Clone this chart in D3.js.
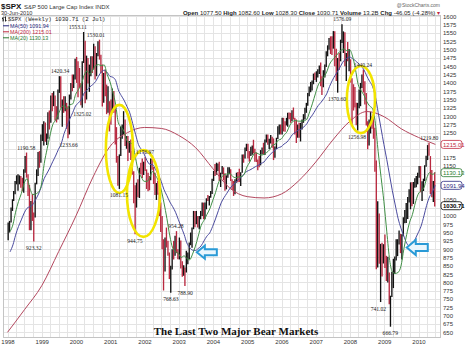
<!DOCTYPE html>
<html><head><meta charset="utf-8">
<script src="https://cdn.jsdelivr.net/npm/d3@7"></script>
<style>body{margin:0;background:#fff}svg{display:block}</style>
</head><body>
<svg id="c" width="474" height="357"></svg>
<script>
// ---------------- DATA ----------------
const startYear = 1998; // half-month periods starting Jan 1998
const priceHigh = [
 980,985,1025,1050,1075,1105,1122,1125,1122,1120,1115,1140,1180,1190.58,1125,1093,1045,1066,1010,1100,1140,1192,1195,1245,
 1276,1285,1281,1248,1312,1317,1362,1370,1375,1362,1330,1380,1420.34,1420,1350,1360,1360,1340,1330,1365,1400,1425,1425,1473,
 1478,1465,1445,1400,1465,1553.11,1527,1482,1475,1455,1480,1480,1518,1510,1490,1525,1530.01,1485,1455,1430,1440,1395,1390,1345,
 1350,1383,1376,1330,1267,1180,1185,1269,1275,1315,1290,1240,1240,1225,1230,1195,1134,1092,1100,1110,1145,1160,1173,1163,
 1176.97,1140,1130,1120,1173,1172,1147,1130,1099,1106,1070,1040,1000,930,935,965,925,890,850,900,925,940,954.28,900,
 935,926,864,852,845,895,890,920,950,965,1015,1015,1015,1000,1000,1015,1040,1040,1040,1053,1063,1060,1075,1112,
 1135,1156,1160,1158,1163,1130,1150,1146,1128,1122,1146,1146,1140,1110,1105,1110,1130,1132,1142,1131,1185,1185,1206,1217,
 1217,1195,1208,1212,1229,1202,1191,1170,1180,1198,1206,1220,1230,1245,1245,1232,1243,1238,1233,1209,1235,1270,1275,1275,
 1295,1295,1285,1295,1310,1311,1310,1318,1326,1295,1290,1275,1280,1280,1290,1306,1325,1340,1370,1389,1403,1407,1428,1431,
 1435,1441,1452,1461.57,1420,1438,1455,1495,1513,1535,1540,1540,1555.9,1555,1503,1475,1490,1530,1576.09,1555,1552,1490,1523,1502,
 1471,1414,1396,1388,1340,1340,1380,1400,1425,1440.24,1405,1370,1285,1290,1313.15,1300,1303,1265,1167,1044,1007,916,919,915,
 943.85,880,877,830,760,832,871,878,930,930,956.23,946,945,996,1018,1039,1057,1080,1101,1101,1102,1113,1120,1130,
 1150.45,1150,1104,1112,1152,1181,1213,1219.8,1180,1138,1105,1131.23
];
const priceLow = [
 927,950,980,1015,1045,1065,1095,1076,1095,1085,1074,1070,1130,1115,1060,957,957,985,923.32,995,1095,1120,1145,1160,
 1225,1212,1223,1213,1232,1260,1280,1315,1330,1287,1281,1290,1370,1325,1268,1310,1315,1262,1233.66,1245,1350,1375,1385,1410,
 1400,1357,1385,1333,1325.02,1460,1339,1350,1398,1373,1420,1430,1440,1410,1420,1480,1470,1430,1329,1340,1360,1306,1310,1254,
 1274,1310,1310,1215,1160,1091,1081.15,1180,1232,1245,1210,1202,1165,1190,1168,1124,1038,944.75,1025,1056,1054,1125,1114,1123,
 1135,1081,1074,1077,1107,1139,1096,1063,1048,1064,1000,952,900,775.68,833,905,880,810,768.63,839,869,880,888,870,
 869,842,817,820,788.9,830,855,870,912,904,960,966,975,965,960,990,1000,990,990,1020,1045,1031,1055,1066,
 1105,1120,1124,1135,1105,1087,1125,1107,1076,1080,1115,1125,1105,1078,1060,1065,1100,1101,1102,1090,1130,1160,1173,1195,
 1173,1163,1180,1184,1188,1163,1162,1137,1146,1152,1185,1185,1183,1221,1214,1201,1218,1205,1168,1175,1201,1231,1245,1245,
 1245,1254,1253,1272,1268,1291,1280,1285,1290,1245,1219,1235,1235,1224,1260,1280,1290,1310,1331,1360,1372,1377,1396,1409,
 1403,1416,1427,1390,1363.98,1387,1416,1448,1480,1500,1487,1484,1503,1450,1406,1370.6,1439,1465,1520,1490,1450,1406,1465,1435,
 1401,1270.05,1317,1326,1273,1256.98,1324,1330,1385,1371,1335,1272,1200.44,1212,1248,1262,1232,1133,839.8,845,856,741.02,818,857,
 843,804,800,734,666.79,756,783,826,866,879,914,888,869,939,978,979,991,1040,1020,1029,1036,1085,1086,1095,
 1115,1071,1044.5,1075,1105,1148,1168,1181,1065.79,1055.9,1042.17,1028.3
];
const priceClose = [
 950,980,1020,1049,1069,1102,1108,1112,1117,1091,1077,1134,1177,1121,1063,957,1030,1017,1000,1099,1126,1164,1162,1229,
 1244,1280,1231,1238,1307,1286,1350,1335,1367,1302,1295,1373,1418,1329,1330,1320,1336,1283,1247,1363,1397,1389,1418,1469,
 1465,1394,1388,1366,1464,1499,1357,1452,1420,1421,1466,1455,1510,1431,1484,1518,1481,1437,1374,1429,1375,1315,1341,1320,
 1318,1366,1318,1240,1173,1160,1183,1249,1249,1256,1215,1224,1202,1211,1182,1134,1092,1041,1092,1060,1142,1139,1124,1148,
 1138,1130,1116,1107,1166,1147,1103,1077,1099,1067,1007,990,921,912,930,916,889,815,841,886,882,936,890,880,
 918,856,834,841,833,848,869,917,947,964,998,975,993,990,990,1008,1018,996,1038,1051,1050,1058,1074,1112,
 1133,1131,1145,1145,1120,1126,1140,1107,1095,1121,1132,1141,1106,1102,1065,1104,1128,1115,1103,1130,1184,1174,1203,1212,
 1184,1181,1201,1204,1200,1181,1162,1157,1154,1192,1200,1191,1227,1234,1220,1220,1231,1229,1187,1207,1234,1249,1270,1248,
 1287,1280,1275,1281,1303,1295,1289,1311,1292,1270,1230,1270,1236,1277,1285,1304,1322,1336,1366,1378,1396,1401,1425,1418,
 1431,1438,1443,1407,1387,1421,1452,1482,1505,1531,1522,1503,1552,1455,1406,1474,1471,1527,1548,1549,1452,1481,1467,1468,
 1411,1379,1349,1331,1288,1323,1334,1386,1425,1400,1360,1280,1214,1267,1298,1283,1251,1166,946,969,873,896,879,903,
 851,826,826,735,756,798,869,873,882,919,946,919,940,987,1005,1021,1053,1057,1097,1036,1094,1096,1102,1115,
 1136,1074,1075,1104,1150,1169,1211,1187,1136,1089,1092,1030.71
];
// monthly samples (month end), Jan 1998 .. Jun 2010
const ma20Values = [
 953,974,1011,1043,1067,1098,1112,1083,1064,1066,1072,1093,
 1158,1202,1239,1274,1288,1307,1325,1332,1321,1334,1337,1365,
 1380,1396,1423,1436,1426,1439,1452,1455,1452,1454,1426,1404,
 1373,1334,1280,1267,1254,1226,1220,1215,1173,1134,1117,1104,
 1104,1117,1134,1122,1106,1078,1039,992,940,904,893,887,
 875,880,872,868,885,909,939,971,987,1004,1021,1045,
 1070,1099,1114,1124,1126,1128,1119,1115,1117,1118,1125,1147,
 1162,1180,1190,1187,1183,1185,1191,1199,1213,1216,1228,1231,
 1243,1253,1271,1283,1287,1285,1285,1286,1291,1313,1339,1367,
 1394,1408,1417,1433,1456,1469,1478,1489,1498,1502,1497,1500,
 1481,1442,1396,1377,1364,1344,1331,1323,1279,1193,1116,1043,
 952,866,832,827,830,849,899,944,981,1004,1039,1065,
 1076,1085,1112,1130,1125,1130.13
];
const ma50Values = [
 892,913,942,968,988,1009,1023,1028,1034,1049,1066,1088,
 1113,1129,1144,1163,1180,1200,1217,1248,1270,1292,1311,1331,
 1340,1351,1369,1378,1388,1395,1404,1420,1433,1438,1432,1420,
 1417,1407,1379,1362,1348,1329,1310,1278,1245,1215,1200,1186,
 1166,1155,1154,1140,1124,1104,1079,1061,1042,1028,1011,989,
 966,944,919,905,897,896,902,910,925,939,949,968,
 991,1016,1039,1055,1068,1082,1092,1100,1109,1116,1126,1134,
 1138,1143,1148,1152,1158,1162,1173,1183,1192,1199,1205,1208,
 1216,1222,1232,1245,1251,1258,1261,1268,1277,1292,1304,1318,
 1332,1342,1353,1367,1389,1408,1423,1437,1453,1467,1474,1478,
 1473,1467,1459,1451,1440,1421,1405,1390,1359,1311,1262,1215,
 1169,1120,1076,1033,993,963,940,918,909,914,931,949,
 969,1000,1031,1057,1071,1091.94
];
const ma200Dates = ["1998-01-01","1998-07-01","1999-01-01","1999-07-01","2000-01-01","2000-07-01","2001-01-01","2001-07-01",
 "2002-01-01","2002-07-01","2003-01-01","2003-07-01","2004-01-01","2004-07-01","2005-01-01","2005-07-01","2006-01-01",
 "2006-07-01","2007-01-01","2007-07-01","2008-01-01","2008-07-01","2009-01-01","2009-07-01","2010-01-01","2010-06-30"];
const ma200Values = [650,718,790,893,1000,1117,1210,1250,1266,1263,1242,1205,1142,1083,1058,1054,1066,1105,1162,1228,1285,1314,1298,1262,1236,1215.01];
const yearLabels = ["1998","1999","2000","2001","2002","2003","2004","2005","2006","2007","2008","2009","2010"];
const yTickValues = [650,675,700,725,750,775,800,825,850,875,900,925,950,975,1000,1025,1050,1075,1100,1125,1150,1175,1200,
 1225,1250,1275,1300,1325,1350,1375,1400,1425,1450,1475,1500,1525,1550,1575,1600];
const annotations = [
 {date:"2000-03-24",value:1553.11,side:"above"},{date:"2000-09-01",value:1530.01,side:"above"},
 {date:"1999-07-16",value:1420.34,side:"above"},{date:"2000-03-08",value:1325.02,side:"below"},
 {date:"1999-10-15",value:1233.66,side:"below"},{date:"1998-07-20",value:1190.58,side:"above"},
 {date:"2002-01-07",value:1176.97,side:"above"},{date:"2001-04-04",value:1081.15,side:"below"},
 {date:"2001-09-21",value:944.75,side:"below"},{date:"2002-12-02",value:954.28,side:"above"},
 {date:"1998-10-08",value:923.32,side:"below"},{date:"2002-10-10",value:768.63,side:"below"},
 {date:"2003-03-11",value:788.90,side:"below"},{date:"2007-10-11",value:1576.09,side:"above"},
 {date:"2008-05-19",value:1440.24,side:"above"},{date:"2007-08-16",value:1370.60,side:"below"},
 {date:"2008-03-17",value:1256.98,side:"below"},{date:"2010-04-26",value:1219.80,side:"above"},
 {date:"2008-11-21",value:741.02,side:"below"},{date:"2009-03-06",value:666.79,side:"below"}
];
// highlighted regions (yellow ellipses): date span and value span
const highlights = [
 {from:"2000-11-15",to:"2001-08-31",low:1069,high:1334},
 {from:"2001-06-28",to:"2002-06-15",low:937,high:1198},
 {from:"2007-11-29",to:"2008-09-24",low:1249,high:1451}
];
// blue arrows pointing at crossover
const arrowPoints = [{date:"2003-07-13",value:891},{date:"2009-08-29",value:905}];
const headerStats = [["Open","1077.50"],["High","1082.60"],["Low","1028.30"],["Close","1030.71"],["Volume","13.2B"],["Chg","-46.05 (-4.28%)"]];

// ---------------- DRAW ----------------
const svg = d3.select("#c");
const P = {left:3, right:440, top:15, bottom:337};
const pd = d3.timeParse("%Y-%m-%d");
const x = d3.scaleTime().domain([new Date(1998,0,1), new Date(2010,0,1)]).range([7.5, 418.5]);
const y = d3.scaleLinear().domain([650,1600]).range([332.3, 16.4]);
const periodDate = i => new Date(startYear + Math.floor(i/24), Math.floor((i%24)/2), (i%2) ? 23 : 8);
const monthDate = i => new Date(startYear + Math.floor(i/12), i%12, 28);
const sans = "'Liberation Sans', Arial, sans-serif";

// grid
const g = svg.append("g");
g.selectAll("line.h").data(yTickValues).join("line")
  .attr("x1",P.left).attr("x2",P.right)
  .attr("y1",d=>Math.round(y(d))+0.5).attr("y2",d=>Math.round(y(d))+0.5)
  .attr("stroke","#e4e4e4").attr("stroke-width",1);
const quarters = d3.timeMonth.every(3).range(new Date(1998,0,1), new Date(2010,9,1));
g.selectAll("line.v").data(quarters).join("line")
  .attr("x1",d=>Math.round(x(d))+0.5).attr("x2",d=>Math.round(x(d))+0.5)
  .attr("y1",P.top).attr("y2",P.bottom)
  .attr("stroke","#e4e4e4").attr("stroke-width",1);
svg.append("rect").attr("x",P.left+0.5).attr("y",P.top+0.5)
  .attr("width",P.right-P.left).attr("height",P.bottom-P.top)
  .attr("fill","none").attr("stroke","#c4c4c4");

// price bars
const barG = svg.append("g");
barG.selectAll("line").data(priceHigh).join("line")
  .attr("x1",(d,i)=>x(periodDate(i))).attr("x2",(d,i)=>x(periodDate(i)))
  .attr("y1",(d,i)=>y(priceLow[i])).attr("y2",d=>y(d))
  .attr("stroke",(d,i)=> (i>0 && priceClose[i] < priceClose[i-1]) ? "#b8283f" : "#111")
  .attr("stroke-width",1.35);

// moving averages
const lineGen = d3.line().x(d=>x(d[0])).y(d=>y(d[1])).curve(d3.curveMonotoneX);
const ma200Pts = ma200Values.map((v,i)=>[pd(ma200Dates[i]),v]);
const ma50Pts = ma50Values.map((v,i)=>[monthDate(i),v]);
const ma20Pts = ma20Values.map((v,i)=>[monthDate(i),v]);
const MA = [
  {pts:ma200Pts,color:"#b3475e",name:"MA(200)",val:ma200Values[ma200Values.length-1],text:"#c0283f"},
  {pts:ma50Pts,color:"#4a4a9e",name:"MA(50)",val:ma50Values[ma50Values.length-1],text:"#2a2a80"},
  {pts:ma20Pts,color:"#3f8f45",name:"MA(20)",val:ma20Values[ma20Values.length-1],text:"#2a7a30"}
];
MA.forEach(m=>{
  svg.append("path").attr("d",lineGen(m.pts)).attr("fill","none")
    .attr("stroke",m.color).attr("stroke-width",1);
});

// yellow ellipses
svg.append("g").selectAll("ellipse").data(highlights).join("ellipse")
  .attr("cx",d=>(x(pd(d.from))+x(pd(d.to)))/2).attr("cy",d=>(y(d.low)+y(d.high))/2)
  .attr("rx",d=>(x(pd(d.to))-x(pd(d.from)))/2).attr("ry",d=>(y(d.low)-y(d.high))/2)
  .attr("fill","none").attr("stroke","#f2e400").attr("stroke-width",2.6);

// arrows
const arrowPath = (L,H,s,h)=>`M0,0L${h},${-H/2}L${h},${-s/2}L${L},${-s/2}L${L},${s/2}L${h},${s/2}L${h},${H/2}Z`;
svg.append("g").selectAll("path").data(arrowPoints).join("path")
  .attr("transform",d=>`translate(${x(pd(d.date))},${y(d.value)})`)
  .attr("d",(d,i)=> i===0 ? arrowPath(20,13,6,8) : arrowPath(21,15,7,9))
  .attr("fill","#eaf6fd").attr("stroke","#2a9ad6").attr("stroke-width",2).attr("stroke-linejoin","miter");

// price annotations
const nudge = {"1553.11":-6,"1530.01":-3,"741.02":-2};
svg.append("g").selectAll("text").data(annotations).join("text")
  .attr("x",d=>x(pd(d.date)) + (nudge[d.value.toFixed(2)]||0))
  .attr("y",d=>y(d.value) + (d.side==="above" ? -3 : 8.5))
  .attr("text-anchor","middle").attr("font-family","'Liberation Serif', 'Times New Roman', serif")
  .attr("font-size",5.6).attr("fill","#222")
  .text(d=>d.value.toFixed(2));

// right-side value badges
const badges = [
  {v:MA[0].val,color:MA[0].text,bold:false},
  {v:MA[2].val,color:MA[2].text,bold:false},
  {v:MA[1].val,color:MA[1].text,bold:false},
  {v:priceClose[priceClose.length-1],color:"#000",bold:true}
];

// axes (tick labels covered by a value badge are left out, as in the original)
const visibleTicks = yTickValues.filter(t => badges.every(b => Math.abs(y(t) - y(b.v)) >= 6));
const yAxis = svg.append("g").attr("transform",`translate(${P.right},0)`)
  .call(d3.axisRight(y).tickValues(visibleTicks).tickSize(0).tickPadding(3).tickFormat(d3.format("d")));
yAxis.select(".domain").remove();
yAxis.selectAll("text").attr("font-family",sans).attr("font-size",6).attr("fill","#333");
const xAxis = svg.append("g").attr("transform",`translate(0,${P.bottom})`)
  .call(d3.axisBottom(x).tickValues(yearLabels.map(s=>new Date(+s,0,1))).tickSize(0).tickPadding(3)
    .tickFormat((d,i)=>yearLabels[i]));
xAxis.select(".domain").remove();
xAxis.selectAll("text").attr("font-family",sans).attr("font-size",6).attr("fill","#333");

const bg = svg.append("g").selectAll("g").data(badges).join("g")
  .attr("transform",d=>`translate(${P.right+1},${y(d.v)})`);
bg.append("rect").attr("x",0).attr("y",-4).attr("width",21).attr("height",8).attr("rx",2.5)
  .attr("fill","#fff").attr("stroke",d=>d.color).attr("stroke-width",0.8);
bg.append("text").attr("x",2).attr("y",2.2).attr("font-family",sans).attr("font-size",6)
  .attr("font-weight",d=>d.bold?"bold":"normal").attr("fill",d=>d.color).text(d=>d.v.toFixed(2));

// header
svg.append("text").attr("x",1).attr("y",9).attr("font-family",sans).attr("font-weight","bold")
  .attr("font-size",8).attr("fill","#111").text("$SPX");
svg.append("text").attr("x",24).attr("y",8.5).attr("font-family",sans).attr("font-size",6)
  .attr("fill","#333").text("S&P 500 Large Cap Index INDX");
svg.append("text").attr("x",1).attr("y",14.5).attr("font-family",sans).attr("font-size",5.6)
  .attr("fill","#333").text("30-Jun-2010");
svg.append("text").attr("x",P.right).attr("y",6.5).attr("text-anchor","end").attr("font-family",sans)
  .attr("font-size",5).attr("fill","#666").text("@StockCharts.com");
const hdr = svg.append("text").attr("x",P.right).attr("y",14.5).attr("text-anchor","end")
  .attr("font-family",sans).attr("font-size",6).attr("fill","#222");
headerStats.forEach(([k,v])=>{
  hdr.append("tspan").attr("font-weight","bold").text(k+" ");
  hdr.append("tspan").text(v+" ");
});
hdr.append("tspan").attr("fill","#c0283f").text("▾");

// legend
svg.append("path").attr("d","M3,17v4.5M2,18.5h1M3,20h1M5.5,16.5v5M4.5,17.5h1M5.5,20.5h1")
  .attr("stroke","#111").attr("stroke-width",0.9).attr("fill","none");
svg.append("text").attr("x",8).attr("y",21.3).attr("font-family","'Liberation Mono', 'DejaVu Sans Mono', monospace")
  .attr("font-size",5.6).attr("fill","#222").text("$SPX (Weekly) 1030.71 (2 Jul)");
const legendOrder = [MA[1],MA[0],MA[2]];
legendOrder.forEach((m,i)=>{
  const yy = 27.6 + i*6;
  svg.append("line").attr("x1",3).attr("x2",9).attr("y1",yy-1.8).attr("y2",yy-1.8)
    .attr("stroke",m.text).attr("stroke-width",1);
  svg.append("text").attr("x",10).attr("y",yy).attr("font-family",sans).attr("font-size",5.4)
    .attr("fill",m.text).text(`${m.name} ${m.val.toFixed(2)}`);
});

// title
svg.append("text").attr("x",236).attr("y",334.5).attr("text-anchor","middle")
  .attr("font-family","'Liberation Serif', 'Times New Roman', serif").attr("font-weight","bold")
  .attr("font-size",11).attr("fill","#111").text("The Last Two Major Bear Markets");
</script>
</body></html>
